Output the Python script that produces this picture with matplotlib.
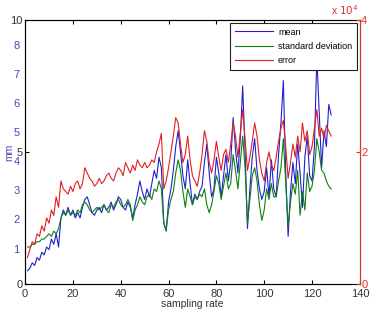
import matplotlib.pyplot as plt
import numpy as np

plt.rcParams['font.family'] = ['Liberation Sans', 'DejaVu Sans']

# sampling rate index
x = np.arange(1, 129)

# mean (left axis, mm)
mean_mm = [0.5,0.6,0.8,0.7,1.0,0.9,1.2,1.1,1.4,1.3,1.7,1.5,1.9,1.4,
           2.5,2.8,2.6,2.9,2.6,2.8,2.5,2.7,2.5,2.9,3.2,3.3,3.0,2.7,2.6,2.8,
           2.9,2.7,3.0,2.8,2.9,3.1,2.8,3.0,3.3,3.2,2.9,2.8,3.1,2.9,2.5,
           3.0,3.4,3.9,3.5,3.2,3.6,3.3,3.8,4.3,4.0,4.8,4.4,2.3,
           2.0,3.1,3.6,4.3,5.2,5.8,5.0,4.1,3.6,4.7,3.8,3.0,
           3.4,3.2,3.5,3.7,4.6,5.3,4.2,3.3,3.6,4.8,4.2,3.3,4.1,4.9,3.9,4.6,6.3,5.1,4.2,5.5,
           7.5,5.0,2.1,3.6,4.8,5.5,4.3,3.6,3.2,3.5,4.4,3.3,4.7,3.6,3.3,4.9,6.1,7.7,4.2,1.8,
           3.5,4.6,3.8,5.3,4.2,2.9,4.8,5.6,4.1,3.9,5.2,8.6,6.5,4.4,5.8,5.2,6.8,6.4]

# standard deviation (left axis, mm)
std_mm = [1.4,1.4,1.5,1.5,1.6,1.6,1.7,1.7,1.8,1.9,1.8,2.0,1.9,2.1,
          2.5,2.7,2.6,2.8,2.6,2.7,2.6,2.8,2.7,3.0,3.1,3.0,2.8,2.7,2.8,2.9,
          2.8,2.9,3.0,2.8,2.7,3.0,2.9,3.1,3.2,3.0,2.9,3.0,3.2,3.0,2.4,
          2.8,3.0,3.3,3.1,3.0,3.3,3.4,3.2,3.6,3.5,3.9,3.6,2.3,
          2.05,2.8,3.2,3.5,4.2,4.7,4.3,3.5,2.9,3.6,3.3,3.0,
          3.3,3.2,3.4,3.3,3.6,3.0,2.7,3.0,3.5,4.1,3.8,3.2,3.7,4.2,3.6,3.8,4.9,4.3,3.6,4.6,
          5.6,4.4,2.3,3.2,4.1,4.4,3.9,3.0,2.4,2.8,3.6,3.2,3.8,3.3,3.3,3.9,4.4,5.5,3.8,2.2,
          3.1,3.8,3.4,4.3,2.6,3.5,2.8,4.2,3.5,3.7,4.3,5.5,5.0,4.3,4.2,3.9,3.7,3.6]

# error (right axis, x 10^4)
error = [0.40,0.52,0.64,0.60,0.76,0.72,0.88,0.80,1.00,0.92,1.12,1.04,1.32,1.16,
         1.56,1.44,1.40,1.36,1.48,1.40,1.52,1.56,1.44,1.52,1.76,1.68,1.60,1.56,1.48,1.52,
         1.60,1.52,1.56,1.64,1.68,1.60,1.56,1.68,1.76,1.72,1.64,1.84,1.76,1.68,1.80,
         1.72,1.88,1.80,1.76,1.84,1.76,1.80,1.88,1.84,2.00,2.12,2.28,1.44,
         1.56,1.76,2.00,2.24,2.52,2.44,2.12,1.84,1.96,2.24,1.88,1.64,
         1.56,1.48,1.68,1.96,2.32,2.16,1.84,1.68,1.88,2.16,1.92,1.72,1.96,2.04,1.84,2.12,2.44,2.24,1.92,2.28,
         2.64,2.20,1.72,1.92,2.16,2.44,2.24,1.88,1.68,1.56,1.84,2.00,1.80,1.72,1.92,2.16,2.36,2.48,2.08,1.60,
         1.84,2.12,1.92,2.24,2.00,2.44,2.16,2.32,1.96,2.08,2.36,2.64,2.24,2.36,2.20,2.40,2.32,2.24]

# blue "mm" tick labels
mm_ticks = [1, 2, 3, 4, 5, 6, 7, 8]

fig = plt.figure(figsize=(3.8, 3.11), dpi=100)
ax = fig.add_axes([0.066, 0.087, 0.881, 0.849])

l1, = ax.plot(x, mean_mm, color='#2020d0', lw=0.8)
l2, = ax.plot(x, std_mm, color='#108010', lw=0.8)
ax.set_xlim(0, 140)
ax.set_ylim(0, 10)
ax.set_xticks(np.arange(0, 141, 20))
ax.set_yticks([0, 5, 10])
ax.tick_params(direction='in', length=3, labelsize=8, top=True, pad=2,
               labelcolor='#333333')
ax.tick_params(axis='x', pad=4)
ax.set_xlabel('sampling rate', fontsize=7.5, labelpad=0, color='#333333')
for s in ax.spines.values():
    s.set_linewidth(0.8)
    s.set_color('#333333')

# blue mm labels (offset scale)
axb = ax.twinx()
axb.yaxis.tick_left()
axb.yaxis.set_label_position('left')
axb.set_ylim(-0.22, 8.87)
axb.set_yticks(mm_ticks)
axb.tick_params(axis='y', length=0, labelcolor='#4848b8', labelsize=8, pad=4)
axb.set_ylabel('mm', color='#4848b8', fontsize=7.5, labelpad=-1)
axb.spines['right'].set_visible(False)

# right red axis for error
ax2 = ax.twinx()
l3, = ax2.plot(x, error, color='#e02020', lw=0.8)
ax2.set_ylim(0, 4)
ax2.set_yticks([0, 2, 4])
ax2.tick_params(axis='y', direction='in', length=3, colors='#e03030', labelsize=8, pad=1)
ax2.spines['right'].set_color('#e03030')
ax2.spines['right'].set_linewidth(0.8)
for k in ['left', 'top', 'bottom']:
    ax2.spines[k].set_visible(False)
ax2.text(0.995, 1.012, r'x $10^4$', transform=ax2.transAxes, color='#e03030',
         fontsize=7.5, ha='right', va='bottom')

leg = ax2.legend([l1, l2, l3], ['mean', 'standard deviation', 'error'],
                 loc='upper right', fontsize=6.5, handlelength=4.2, borderaxespad=0.3,
                 fancybox=False, framealpha=1, edgecolor='#222222', labelspacing=0.6,
                 handletextpad=0.6, borderpad=0.55)
leg.get_frame().set_linewidth(0.8)

fig.savefig('out.png', dpi=100)
